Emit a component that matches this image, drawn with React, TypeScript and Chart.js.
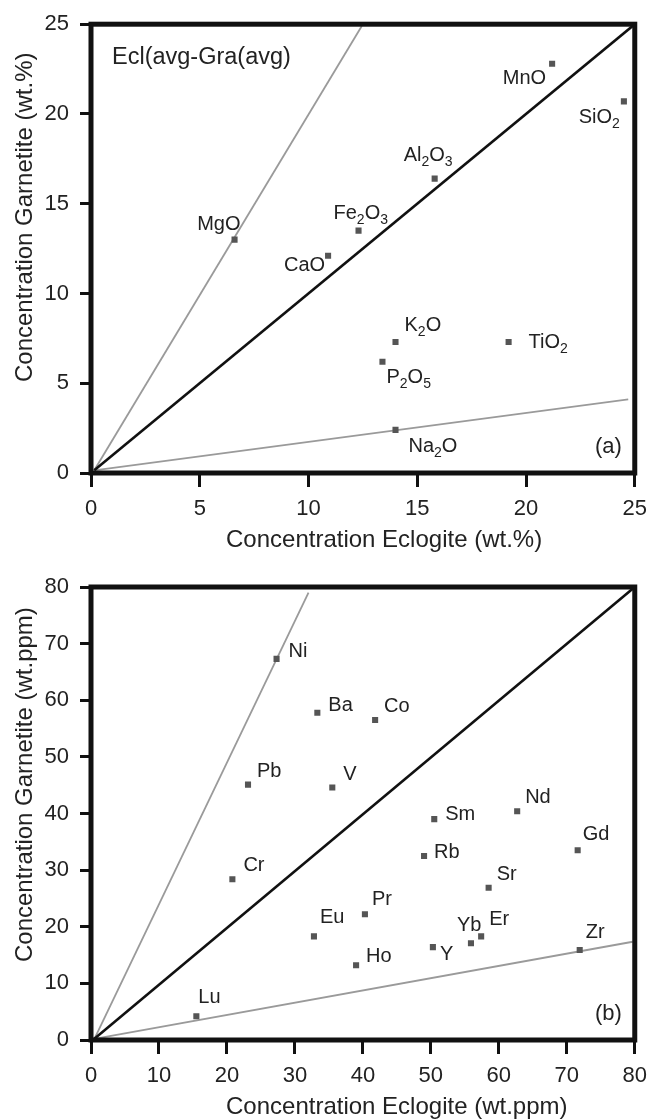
import React, { useEffect, useRef } from "react";
import { Chart, registerables } from "chart.js";

Chart.register(...registerables);

const FONT = '"Liberation Sans", Arial, Helvetica, sans-serif';

// ---------- Panel (a): major oxides (wt.%) ----------
const oxideNames = ["SiO_2", "TiO_2", "Al_2O_3", "Fe_2O_3", "MnO", "MgO", "CaO", "Na_2O", "K_2O", "P_2O_5"];
const oxideEclogite = [24.5, 19.2, 15.8, 12.3, 21.2, 6.6, 10.9, 14.0, 14.0, 13.4];
const oxideGarnetite = [20.7, 7.3, 16.4, 13.5, 22.8, 13.0, 12.1, 2.4, 7.3, 6.2];
const oxideTicks = [0, 5, 10, 15, 20, 25];
const oxideOneToOneX = [0.15, 25];
const oxideOneToOneY = [0.15, 25];
const oxideUpperX = [0.15, 12.45];
const oxideUpperY = [0.15, 24.9];
const oxideLowerX = [0.15, 24.7];
const oxideLowerY = [0.15, 4.1];

// ---------- Panel (b): trace elements (wt.ppm) ----------
const traceNames = ["Ni", "Ba", "Co", "Pb", "V", "Sm", "Nd", "Gd", "Cr", "Rb", "Sr", "Eu", "Pr", "Er", "Yb", "Y", "Ho", "Zr", "Lu"];
const traceEclogite = [27.3, 33.3, 41.8, 23.1, 35.5, 50.5, 62.7, 71.6, 20.8, 49.0, 58.5, 32.8, 40.3, 57.4, 55.9, 50.3, 39.0, 71.9, 15.5];
const traceGarnetite = [67.3, 57.8, 56.5, 45.1, 44.6, 39.0, 40.4, 33.5, 28.4, 32.5, 26.9, 18.3, 22.2, 18.3, 17.1, 16.4, 13.2, 15.9, 4.2];
const traceTicks = [0, 10, 20, 30, 40, 50, 60, 70, 80];
const traceOneToOneX = [0.5, 80];
const traceOneToOneY = [0.2, 80];
const traceUpperX = [0.5, 32];
const traceUpperY = [0.2, 79];
const traceLowerX = [0.5, 79.7];
const traceLowerY = [0.2, 17.35];

// ---------- label placement (layout only) ----------
type Off = [number, number, "left" | "right"];
const oxideLabelOffsets: Off[] = [
  [-4, 22, "right"],
  [20, 6, "left"],
  [-31, -18, "left"],
  [-25, -12, "left"],
  [-6, 20, "right"],
  [6, -10, "right"],
  [-3, 15, "right"],
  [13, 22, "left"],
  [9, -11, "left"],
  [4, 21, "left"],
];
const traceLabelOffsets: Off[] = [
  [12, -2, "left"],
  [11, -2, "left"],
  [9, -8, "left"],
  [9, -8, "left"],
  [11, -7, "left"],
  [11, 1, "left"],
  [8, -8, "left"],
  [5, -10, "left"],
  [11, -8, "left"],
  [10, 2, "left"],
  [8, -8, "left"],
  [6, -13, "left"],
  [7, -9, "left"],
  [8, -11, "left"],
  [-14, -12, "left"],
  [7, 13, "left"],
  [10, -3, "left"],
  [6, -12, "left"],
  [2, -13, "left"],
];

function drawRich(ctx: CanvasRenderingContext2D, text: string, x: number, y: number, align: "left" | "right", size: number) {
  const segs: { t: string; sub: boolean }[] = [];
  let i = 0;
  while (i < text.length) {
    if (text[i] === "_") {
      segs.push({ t: text[i + 1], sub: true });
      i += 2;
    } else {
      let j = i;
      while (j < text.length && text[j] !== "_") j++;
      segs.push({ t: text.slice(i, j), sub: false });
      i = j;
    }
  }
  const mainFont = `${size}px ${FONT}`;
  const subFont = `${Math.round(size * 0.7)}px ${FONT}`;
  let total = 0;
  const widths = segs.map((s) => {
    ctx.font = s.sub ? subFont : mainFont;
    const w = ctx.measureText(s.t).width;
    total += w;
    return w;
  });
  let cx = align === "right" ? x - total : x;
  ctx.textAlign = "left";
  ctx.textBaseline = "alphabetic";
  segs.forEach((s, k) => {
    ctx.font = s.sub ? subFont : mainFont;
    ctx.fillText(s.t, cx, s.sub ? y + 5 : y);
    cx += widths[k];
  });
}

function makeScale(ticks: number[], axis: "x" | "y", fitSize: number) {
  return {
    type: "linear" as const,
    min: ticks[0],
    max: ticks[ticks.length - 1],
    afterBuildTicks: (s: any) => {
      s.ticks = ticks.map((v) => ({ value: v }));
    },
    ticks: {
      font: { family: FONT, size: 22 },
      color: "#222",
      padding: axis === "x" ? 9 : 11,
      maxRotation: 0,
      autoSkip: false,
    },
    grid: {
      display: true,
      drawOnChartArea: false,
      drawTicks: true,
      tickLength: axis === "x" ? 14 : 11,
      tickWidth: 3,
      tickColor: "#111",
    },
    border: { display: false },
    title: { display: false },
    afterFit: (s: any) => {
      if (axis === "x") s.height = fitSize;
      else s.width = fitSize;
    },
  };
}

type PanelProps = {
  names: string[];
  xs: number[];
  ys: number[];
  offsets: Off[];
  ticks: number[];
  one: [number[], number[]];
  upper: [number[], number[]];
  lower: [number[], number[]];
  xTitle: string;
  yTitle: string;
  yTitleStart: number;
  tag: string;
  heading?: string;
  height: number;
  padTop: number;
  xFit: number;
};

function Panel(p: PanelProps) {
  const ref = useRef<HTMLCanvasElement | null>(null);
  useEffect(() => {
    const canvas = ref.current!;
    const pts = p.xs.map((x, i) => ({ x, y: p.ys[i] }));
    const line = (a: [number[], number[]]) => a[0].map((x, i) => ({ x, y: a[1][i] }));
    const overlay = {
      id: "overlay",
      afterDraw(chart: any) {
        const ctx: CanvasRenderingContext2D = chart.ctx;
        const ca = chart.chartArea;
        const xs = chart.scales.x;
        const ys = chart.scales.y;
        ctx.save();
        // frame
        ctx.strokeStyle = "#111";
        ctx.lineWidth = 5;
        ctx.lineJoin = "miter";
        ctx.strokeRect(ca.left, ca.top, ca.right - ca.left, ca.bottom - ca.top);
        // point labels
        ctx.fillStyle = "#222";
        p.names.forEach((n, i) => {
          const px = xs.getPixelForValue(p.xs[i]);
          const py = ys.getPixelForValue(p.ys[i]);
          const [dx, dy, al] = p.offsets[i];
          drawRich(ctx, n, px + dx, py + dy, al, 20);
        });
        // panel tag
        drawRich(ctx, p.tag, ca.right - 13, ca.bottom - 20, "right", 22);
        if (p.heading) drawRich(ctx, p.heading, ca.left + 21, ca.top + 40, "left", 23.5);
        // axis titles
        ctx.font = `24px ${FONT}`;
        ctx.textAlign = "left";
        ctx.textBaseline = "alphabetic";
        ctx.fillText(p.xTitle, 226, ca.bottom + 74);
        ctx.save();
        ctx.translate(32, p.yTitleStart);
        ctx.rotate(-Math.PI / 2);
        ctx.fillText(p.yTitle, 0, 0);
        ctx.restore();
        ctx.restore();
      },
    };
    const chart = new Chart(canvas, {
      type: "scatter",
      data: {
        datasets: [
          {
            data: pts,
            pointStyle: "rect",
            pointRadius: 4.3,
            pointBackgroundColor: "#555",
            pointBorderWidth: 0,
            showLine: false,
          },
          {
            data: line(p.one),
            showLine: true,
            borderColor: "#111",
            borderWidth: 2.6,
            pointRadius: 0,
          },
          {
            data: line(p.upper),
            showLine: true,
            borderColor: "#9a9a9a",
            borderWidth: 1.8,
            pointRadius: 0,
          },
          {
            data: line(p.lower),
            showLine: true,
            borderColor: "#9a9a9a",
            borderWidth: 1.8,
            pointRadius: 0,
          },
        ],
      },
      options: {
        responsive: false,
        animation: false,
        devicePixelRatio: 1,
        layout: { padding: { top: p.padTop, right: 13, left: 0, bottom: 0 } },
        plugins: { legend: { display: false }, tooltip: { enabled: false } },
        scales: {
          x: makeScale(p.ticks, "x", p.xFit) as any,
          y: makeScale(p.ticks, "y", 91) as any,
        },
      },
      plugins: [overlay],
    });
    return () => chart.destroy();
  }, []);
  return <canvas ref={ref} width={656} height={p.height} style={{ display: "block", width: 656, height: p.height }} />;
}

export default function App() {
  return (
    <div style={{ position: "absolute", left: 0, top: 0, width: 656, height: 1119, background: "#fff" }}>
      <Panel
        names={oxideNames}
        xs={oxideEclogite}
        ys={oxideGarnetite}
        offsets={oxideLabelOffsets}
        ticks={oxideTicks}
        one={[oxideOneToOneX, oxideOneToOneY]}
        upper={[oxideUpperX, oxideUpperY]}
        lower={[oxideLowerX, oxideLowerY]}
        xTitle="Concentration Eclogite (wt.%)"
        yTitle="Concentration Garnetite (wt.%)"
        yTitleStart={382}
        tag="(a)"
        heading="Ecl(avg-Gra(avg)"
        height={560}
        padTop={19}
        xFit={87}
      />
      <Panel
        names={traceNames}
        xs={traceEclogite}
        ys={traceGarnetite}
        offsets={traceLabelOffsets}
        ticks={traceTicks}
        one={[traceOneToOneX, traceOneToOneY]}
        upper={[traceUpperX, traceUpperY]}
        lower={[traceLowerX, traceLowerY]}
        xTitle="Concentration Eclogite (wt.ppm)"
        yTitle="Concentration Garnetite (wt.ppm)"
        yTitleStart={402}
        tag="(b)"
        height={559}
        padTop={27}
        xFit={79}
      />
    </div>
  );
}
